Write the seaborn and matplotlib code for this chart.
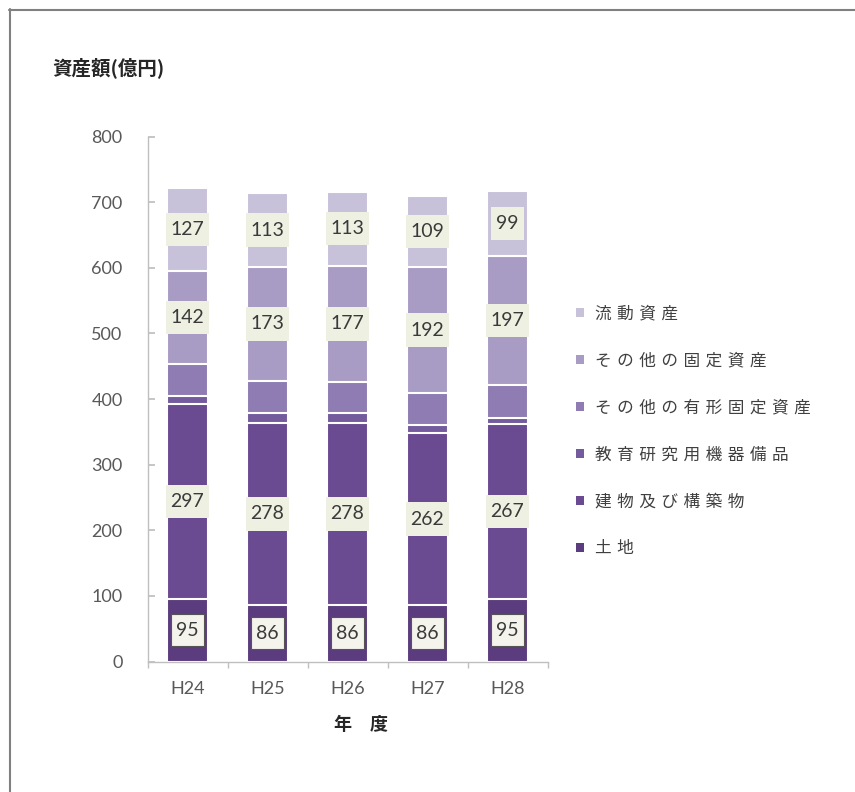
import numpy as np
import pandas as pd
import matplotlib
matplotlib.use('Agg')
import matplotlib.pyplot as plt
import seaborn as sns
from matplotlib.patches import Rectangle, Patch
from matplotlib.lines import Line2D

# ---- data ----
years = ['H24', 'H25', 'H26', 'H27', 'H28']
series_names = ['土地', '建物及び構築物', '教育研究用機器備品',
                'その他の有形固定資産', 'その他の固定資産', '流動資産']
land = [95, 86, 86, 86, 95]
buildings = [297, 278, 278, 262, 267]
equipment = [13, 15, 14, 12, 9]
other_tangible = [48, 49, 48, 49, 50]
other_fixed = [142, 173, 177, 192, 197]
current = [127, 113, 113, 109, 99]
labeled_series = ['土地', '建物及び構築物', 'その他の固定資産', '流動資産']
y_ticks = [0, 100, 200, 300, 400, 500, 600, 700, 800]
y_title = '資産額(億円)'
x_title = '年\u3000度'

colors = ['#5B3C7E', '#6A4A91', '#745B9D', '#8E7CB2', '#A99CC4', '#C8C1DA']

sns.set_theme(style='white')
plt.rcParams['font.family'] = ['Lato', 'Noto Sans CJK JP', 'DejaVu Sans']
CJK = ['Noto Sans CJK JP', 'DejaVu Sans']

fig = plt.figure(figsize=(8.55, 7.92), dpi=100)
ax = fig.add_axes([147.5 / 855, 1 - 661.5 / 792, 400 / 855, 525 / 792])

data = np.array([land, buildings, equipment, other_tangible, other_fixed, current], dtype=float)
cum = np.cumsum(data, axis=0)
bottoms = np.vstack([np.zeros(len(years)), cum[:-1]])

for k in range(len(series_names) - 1, -1, -1):
    df = pd.DataFrame({'year': years, 'value': cum[k]})
    sns.barplot(data=df, x='year', y='value', color=colors[k], saturation=1,
                width=0.51, edgecolor='white', linewidth=1.5, errorbar=None, ax=ax)

# data labels
for k, name in enumerate(series_names):
    if name not in labeled_series:
        continue
    for i in range(len(years)):
        v = int(data[k][i])
        yc = bottoms[k][i] + v / 2
        narrow = v < 100
        w = 0.41 if narrow else 0.54
        h = 49 if narrow else 51
        if name == '土地':
            fc, ec, lw = '#F4F4EC', '#555555', 0.8
        else:
            fc, ec, lw = '#EEF0E1', 'none', 0
        ax.add_patch(Rectangle((i - w / 2, yc - h / 2), w, h, facecolor=fc,
                               edgecolor=ec, linewidth=lw, zorder=3))
        ax.text(i, yc, str(v), ha='center', va='center', fontsize=14,
                color='#3A3A3A', zorder=4)

ax.set_xlim(-0.5, len(years) - 0.5)
ax.set_ylim(0, 800)
ax.set_yticks(y_ticks)
ax.set_xlabel('')
ax.set_ylabel('')
for s in ['top', 'right']:
    ax.spines[s].set_visible(False)
for s in ['left', 'bottom']:
    ax.spines[s].set_color('#BFBFBF')
    ax.spines[s].set_linewidth(1)
ax.tick_params(axis='y', left=True, direction='in', length=5, color='#BFBFBF',
               labelsize=13, labelcolor='#595959', pad=18)
ax.tick_params(axis='x', which='major', bottom=False, length=0,
               labelsize=13, labelcolor='#595959', pad=14)
ax.set_xticks(np.arange(-0.5, len(years), 1.0), minor=True)
ax.tick_params(axis='x', which='minor', bottom=True, direction='out', length=4,
               color='#BFBFBF')

fig.text(52 / 855, 1 - 68 / 792, y_title, fontsize=14, fontweight='bold',
         ha='left', va='center', color='#262626', family=CJK)
fig.text(361 / 855, 1 - 725 / 792, x_title, fontsize=13, fontweight='bold',
         ha='center', va='center', color='#262626', family=CJK)

handles = [Patch(facecolor=colors[k], edgecolor='none') for k in range(len(series_names) - 1, -1, -1)]
labels = ['\u2004'.join(series_names[k]) for k in range(len(series_names) - 1, -1, -1)]
fig.legend(handles, labels, loc='center left', bbox_to_anchor=(576 / 855, 1 - 431.5 / 792),
           frameon=False, prop={'family': CJK, 'size': 12}, labelspacing=1.8,
           handlelength=0.45, handleheight=0.45, handletextpad=0.7,
           borderpad=0, borderaxespad=0, labelcolor='#404040')

# outer frame (top and left edges visible)
fig.add_artist(Line2D([9 / 855, 1], [1 - 9.5 / 792] * 2, transform=fig.transFigure,
                      color='#808080', lw=1.5))
fig.add_artist(Line2D([9.5 / 855] * 2, [0, 1 - 9 / 792], transform=fig.transFigure,
                      color='#808080', lw=1.5))

fig.savefig('out.png', dpi=100)
